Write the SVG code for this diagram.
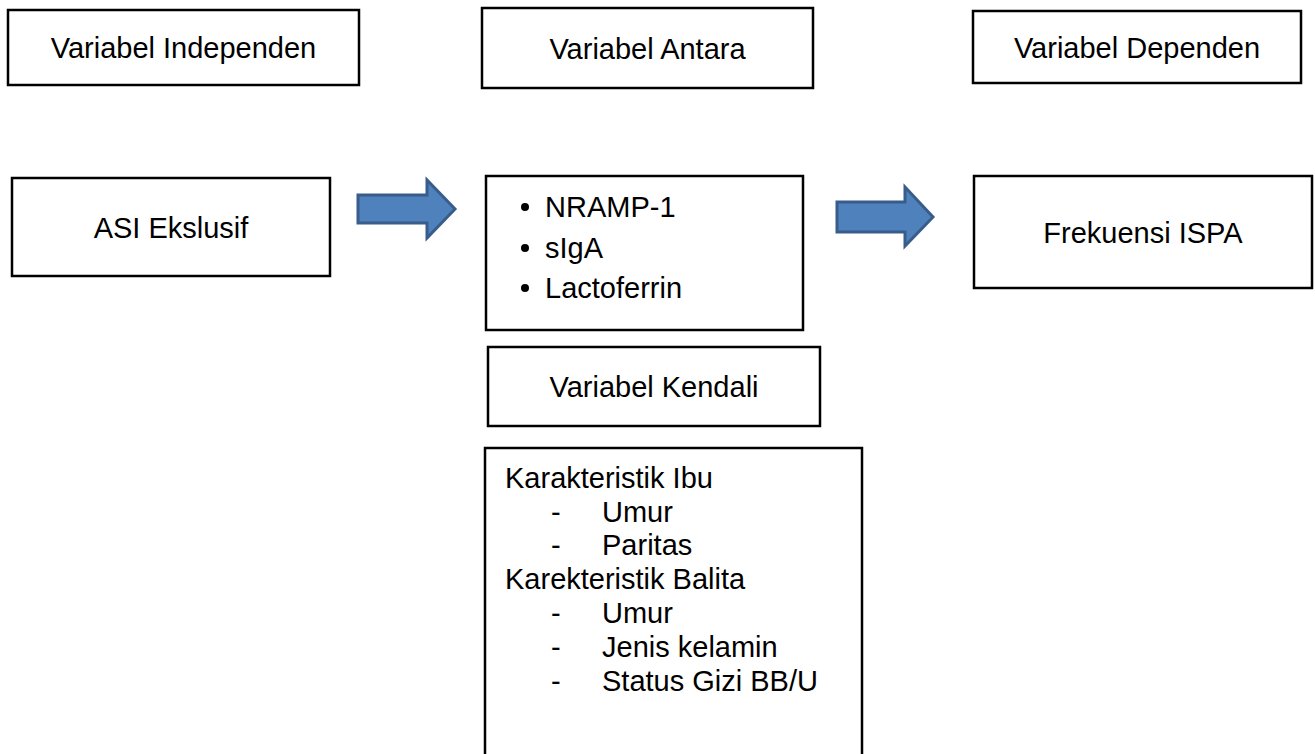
<svg xmlns="http://www.w3.org/2000/svg" width="1315" height="754" viewBox="0 0 1315 754">
<style>
.box{fill:#fff;stroke:#000;stroke-width:2.5}
.t{font-family:"Liberation Sans",Arial,sans-serif;font-size:29px;fill:#000}
.c{text-anchor:middle}
.arr{fill:#4F81BD;stroke:#385D8A;stroke-width:3;stroke-linejoin:miter}
</style>
<rect width="1315" height="754" fill="#fff"/>
<g id="connectors">
<polygon class="arr" points="358,195 427,195 427,180 455,209 427,238 427,223 358,223"/>
<polygon class="arr" points="837,202 905,202 905,187 933,217 905,246 905,232 837,232"/>
</g>
<g id="var-independen"><rect class="box" x="8" y="10" width="351" height="75"/><text class="t c" x="183.5" y="58">Variabel Independen</text></g>
<g id="var-antara"><rect class="box" x="482" y="8" width="331" height="80"/><text class="t c" x="647.5" y="58.5">Variabel Antara</text></g>
<g id="var-dependen"><rect class="box" x="973" y="11" width="328" height="72"/><text class="t c" x="1137" y="57.5">Variabel Dependen</text></g>
<g id="asi"><rect class="box" x="12" y="178" width="318" height="98"/><text class="t c" x="171" y="238">ASI Ekslusif</text></g>
<g id="antara-list"><rect class="box" x="486" y="176" width="317" height="154"/>
<circle cx="525" cy="207" r="4"/><circle cx="525" cy="248" r="4"/><circle cx="525" cy="288" r="4"/>
<text class="t" x="545" y="217">NRAMP-1</text><text class="t" x="545" y="258">sIgA</text><text class="t" x="545" y="298">Lactoferrin</text></g>
<g id="frekuensi"><rect class="box" x="974" y="176" width="338" height="112"/><text class="t c" x="1143" y="243">Frekuensi ISPA</text></g>
<g id="var-kendali"><rect class="box" x="488" y="347" width="332" height="79"/><text class="t c" x="654" y="397">Variabel Kendali</text></g>
<g id="kendali-list"><rect class="box" x="485" y="448" width="377" height="320"/>
<text class="t" x="505" y="488">Karakteristik Ibu</text>
<text class="t" x="551" y="522">-</text><text class="t" x="602" y="522">Umur</text>
<text class="t" x="551" y="555">-</text><text class="t" x="602" y="555">Paritas</text>
<text class="t" x="505" y="589">Karekteristik Balita</text>
<text class="t" x="551" y="623">-</text><text class="t" x="602" y="623">Umur</text>
<text class="t" x="551" y="657">-</text><text class="t" x="602" y="657">Jenis kelamin</text>
<text class="t" x="551" y="691">-</text><text class="t" x="602" y="691">Status Gizi BB/U</text>
</g>
</svg>
